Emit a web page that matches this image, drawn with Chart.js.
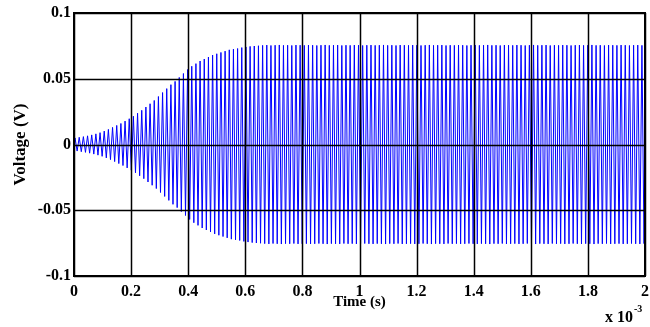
<!DOCTYPE html>
<html>
<head>
<meta charset="utf-8">
<script src="https://cdn.jsdelivr.net/npm/chart.js@4/dist/chart.umd.min.js"></script>
<style>
  html, body { margin: 0; padding: 0; background: #fff; }
  #wrap { width: 650px; height: 327px; }
</style>
</head>
<body>
<div id="wrap"><canvas id="c" width="650" height="327"></canvas></div>
<script>
// ---- data ----
// x axis in units of 1e-3 s
const xTicks = [0, 0.2, 0.4, 0.6, 0.8, 1, 1.2, 1.4, 1.6, 1.8, 2];
const yTicks = [-0.1, -0.05, 0, 0.05, 0.1];
// oscillation period (x 1e-3 s), read from peak spacing
const period = 0.0146;
// peak amplitude (V) of each cycle: ramp-up part
const rampPeaks = [
  0.0050, 0.0055, 0.0060, 0.0066, 0.0073, 0.0081, 0.0090, 0.0102, 0.0115, 0.0130,
  0.0145, 0.0160, 0.0178, 0.0196, 0.0215, 0.0238, 0.0260, 0.0285, 0.0310, 0.0335,
  0.0365, 0.0395, 0.0425, 0.0455, 0.0480, 0.0510, 0.0540, 0.0570, 0.0595, 0.0615,
  0.0635, 0.0650, 0.0665, 0.0680, 0.0690, 0.0700, 0.0710, 0.0720, 0.0725, 0.0730,
  0.0737, 0.0742, 0.0746, 0.0749, 0.0751
];
// peak amplitude (V) of each cycle: steady part
const steadyPeaks = [
  0.0754,0.0756,0.0753,0.0755,0.0757,0.0754,0.0755,0.0753,0.0756,0.0755,
  0.0754,0.0756,0.0755,0.0753,0.0755,0.0757,0.0754,0.0755,0.0756,0.0753,
  0.0755,0.0754,0.0756,0.0755,0.0753,0.0755,0.0756,0.0754,0.0755,0.0757,
  0.0754,0.0755,0.0753,0.0756,0.0755,0.0754,0.0756,0.0755,0.0753,0.0755,
  0.0757,0.0754,0.0755,0.0756,0.0753,0.0755,0.0754,0.0756,0.0755,0.0753,
  0.0755,0.0756,0.0754,0.0755,0.0757,0.0754,0.0755,0.0753,0.0756,0.0755,
  0.0754,0.0756,0.0755,0.0753,0.0755,0.0757,0.0754,0.0755,0.0756,0.0753,
  0.0755,0.0754,0.0756,0.0755,0.0753,0.0755,0.0756,0.0754,0.0755,0.0757,
  0.0754,0.0755,0.0753,0.0756,0.0755,0.0754,0.0756,0.0755,0.0753,0.0755,
  0.0756,0.0754,0.0755
];

// ---- build the series: positive and negative peak of every cycle ----
const peaks = rampPeaks.concat(steadyPeaks);
const points = [{x: 0, y: 0}];
peaks.forEach((a, k) => {
  points.push({x: (k + 0.25) * period, y: a});
  points.push({x: (k + 0.75) * period, y: -a});
});

const FONT = "'Liberation Serif', 'Times New Roman', serif";

const overlay = {
  id: 'overlay',
  afterDatasetsDraw(chart) {
    const {ctx, chartArea: ca, scales} = chart;
    ctx.save();
    ctx.strokeStyle = '#000';
    ctx.lineWidth = 1.5;
    ctx.beginPath();
    xTicks.forEach(v => {
      const px = Math.round(scales.x.getPixelForValue(v)) + 0.5;
      ctx.moveTo(px, ca.top); ctx.lineTo(px, ca.bottom);
    });
    yTicks.forEach(v => {
      const py = Math.round(scales.y.getPixelForValue(v)) + 0.5;
      ctx.moveTo(ca.left, py); ctx.lineTo(ca.right, py);
    });
    ctx.stroke();
    ctx.lineWidth = 2;
    ctx.strokeRect(ca.left, ca.top, ca.right - ca.left, ca.bottom - ca.top);
    // exponent label
    ctx.fillStyle = '#000';
    ctx.textBaseline = 'alphabetic';
    ctx.textAlign = 'left';
    ctx.font = "bold 16px " + FONT;
    const ex = ca.right - 40;
    ctx.fillText('x 10', ex, 322);
    const w = ctx.measureText('x 10').width;
    ctx.font = "bold 10px " + FONT;
    ctx.fillText('-3', ex + w + 1, 312);
    ctx.restore();
  }
};

new Chart(document.getElementById('c'), {
  type: 'line',
  data: {
    datasets: [{
      data: points,
      borderColor: '#0000ff',
      borderWidth: 1,
      pointRadius: 0,
      tension: 0,
      fill: false
    }]
  },
  options: {
    responsive: false,
    animation: false,
    layout: { padding: { left: 0, right: 5, top: 13, bottom: 0 } },
    plugins: { legend: { display: false }, tooltip: { enabled: false } },
    scales: {
      x: {
        type: 'linear',
        min: 0, max: 2,
        afterBuildTicks: s => { s.ticks = xTicks.map(v => ({value: v})); },
        afterFit: s => { s.height = 51; s.paddingLeft = 0; s.paddingRight = 0; },
        grid: { display: false, drawTicks: false },
        border: { display: false },
        ticks: {
          color: '#000', padding: 6, maxRotation: 0,
          font: { family: FONT, size: 16, weight: 'bold' },
          callback: v => String(v)
        },
        title: {
          display: true, text: 'Time (s)', color: '#000',
          padding: { top: 0, bottom: 16 },
          font: { family: FONT, size: 15, weight: 'bold' }
        }
      },
      y: {
        min: -0.1, max: 0.1,
        afterBuildTicks: s => { s.ticks = yTicks.map(v => ({value: v})); },
        afterFit: s => { s.width = 74; s.paddingTop = 0; s.paddingBottom = 0; },
        grid: { display: false, drawTicks: false },
        border: { display: false },
        ticks: {
          color: '#000', padding: 3,
          font: { family: FONT, size: 16, weight: 'bold' },
          callback: v => String(v)
        },
        title: {
          display: true, text: 'Voltage (V)', color: '#000',
          padding: { top: 10, bottom: 0 },
          font: { family: FONT, size: 17, weight: 'bold' }
        }
      }
    }
  },
  plugins: [overlay]
});
</script>
</body>
</html>
